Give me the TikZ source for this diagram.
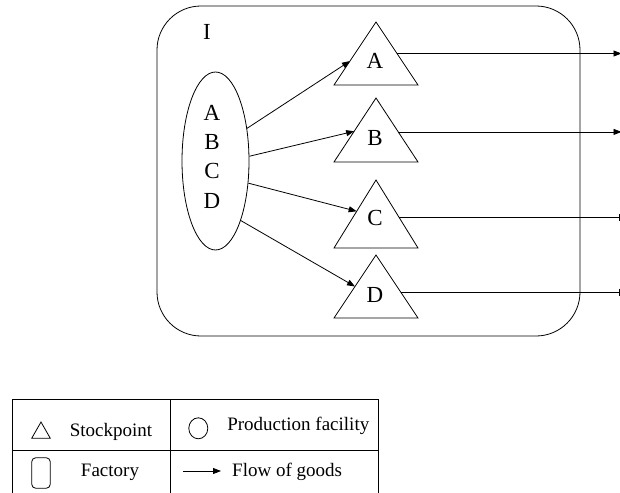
\documentclass[tikz,border=0pt]{standalone}
\usepackage{fontspec}
\setmainfont{Liberation Serif}
\usetikzlibrary{arrows.meta,shapes.geometric,calc}

% stockpoint triangle: name, centre x, apex y, base y, label, label baseline y
\newcommand\stockpt[6]{%
  \coordinate (#1-top) at (#2,#3);
  \coordinate (#1-l) at ({#2-42},#4);
  \coordinate (#1-r) at ({#2+42},#4);
  \draw[ln] (#1-top) -- (#1-l) -- (#1-r) -- cycle;
  \node[big, anchor=base] (#1) at ({#2-1},#6) {#5};
}

\begin{document}
\begin{tikzpicture}[x=1pt, y=-1pt,
  ln/.style={line width=0.8pt, line join=miter},
  big/.style={inner sep=0pt, font=\fontsize{23}{29.3}\selectfont},
  small/.style={inner sep=0pt, font=\fontsize{19}{22}\selectfont},
  flow/.style={ln, -{Triangle[length=8pt, width=6pt]}},
  tick/.style={ln, -{Bar[width=7pt, line width=0.8pt]}}]
\useasboundingbox (0,0) rectangle (620,492);

% factory I
\node[ln, draw, rounded corners=44pt, minimum width=423pt, minimum height=330pt,
      inner sep=0pt] (plant) at (368.5,171) {};
\node[big, anchor=base] (plantlab) at (207,40) {I};

% production facility
\node[ln, draw, ellipse, minimum width=67pt, minimum height=178pt, inner sep=0pt]
  (fac) at (215.5,161) {};
\node[big, align=center] (prods) at (212,156.5) {A\\B\\C\\D};

% stockpoints
\stockpt{tA}{376}{22}{85}{A}{69}
\stockpt{tB}{376}{98}{162}{B}{145}
\stockpt{tC}{376}{180}{248}{C}{225}
\stockpt{tD}{376}{255}{318}{D}{302}

% flows from the facility to the stockpoints
\draw[flow] (fac.46)  -- ($(tA-top)!0.62!(tA-l)$);
\draw[flow] (fac.8)   -- ($(tB-top)!0.52!(tB-l)$);
\draw[flow] (fac.-34) -- ($(tC-top)!0.46!(tC-l)$);
\draw[flow] (fac.-67) -- ($(tD-top)!0.5!(tD-l)$);

% outgoing flows
\coordinate (edgeA) at (621.5,0);
\coordinate (edgeB) at (619.5,0);
\coordinate (sA) at ($(tA-top)!0.5!(tA-r)$);
\coordinate (sB) at ($(tB-top)!0.53!(tB-r)$);
\coordinate (sC) at ($(tC-top)!0.55!(tC-r)$);
\coordinate (sD) at ($(tD-top)!0.59!(tD-r)$);
\draw[flow] (sA) -- (sA -| edgeA);
\draw[flow] (sB) -- (sB -| edgeA);
\draw[tick] (sC) -- (sC -| edgeB);
\draw[tick] (sD) -- (sD -| edgeB);

% legend table
\draw[ln] (12,493) -- (12,399) -- (378,399) -- (378,493);
\draw[ln] (12,450) -- (378,450);
\draw[ln] (170,399) -- (170,493);

\coordinate (lt-top) at (41,422);
\draw[ln] (lt-top) -- (31.7,438.3) -- (50.3,438.3) -- cycle;
\node[small, anchor=base] (lgstock) at (111,436.7) {Stockpoint};

\node[ln, draw, ellipse, minimum width=19pt, minimum height=21pt, inner sep=0pt]
  (lgell) at (198.3,428.3) {};
\node[small, anchor=base] (lgprod) at (298.3,430) {Production facility};

\node[ln, draw, rounded corners=4pt, minimum width=18.5pt, minimum height=30.5pt,
      inner sep=0pt] (lgbox) at (41,473) {};
\node[small, anchor=base] (lgfact) at (110,476.7) {Factory};

\coordinate (lgfrom) at (183,471);
\node[small, anchor=base west] (lgflow) at (232,476.7) {Flow of goods};
\draw[flow] (lgfrom) -- (lgfrom -| 221,0);
\end{tikzpicture}
\end{document}
